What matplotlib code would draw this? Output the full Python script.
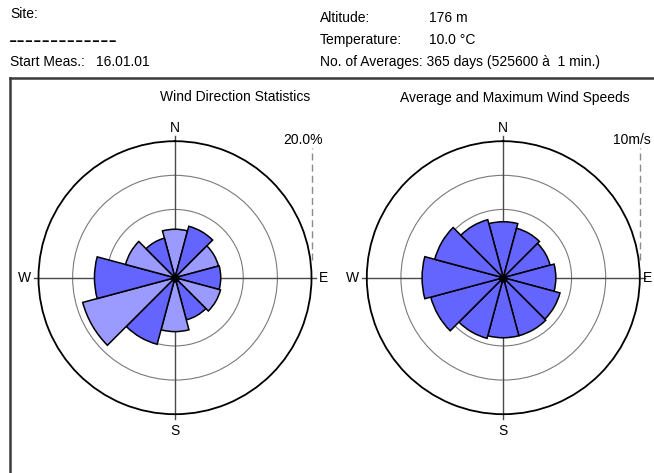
import numpy as np
import matplotlib
matplotlib.use("Agg")
import matplotlib.pyplot as plt
from matplotlib.lines import Line2D

plt.rcParams['font.family'] = ['Liberation Sans', 'DejaVu Sans']

W, H = 654, 473

# sector centres (deg, clockwise from north)
directions = [0, 30, 60, 90, 120, 150, 180, 210, 240, 270, 300, 330]
# share of time per sector [%]
frequency = [7.1, 7.8, 6.6, 6.7, 6.9, 6.4, 7.9, 10.1, 14.0, 11.8, 7.5, 6.0]
# average wind speed per sector [m/s]
avg_speed = [4.1, 3.75, 3.55, 3.85, 4.3, 4.4, 4.4, 4.6, 5.5, 5.95, 5.2, 4.4]

freq_max = 20.0
speed_max = 10.0

header = [("Site:", 10, 14), ("Start Meas.:", 10, 62), ("16.01.01", 96, 62),
          ("Altitude:", 320, 18), ("176 m", 429, 18),
          ("Temperature:", 320, 40), ("10.0 °C", 429, 40),
          ("No. of Averages: 365 days (525600 à  1 min.)", 320, 62)]

DARK = '#6464ff'
LIGHT = '#9b9bff'
FS = 10


def px(x, y):
    return x / W, 1 - y / H


def rose(cx, cy, radius, values, rmax, colors, scale_label, e_pad=1.085):
    l, b = px(cx - radius, cy + radius)
    ax = fig.add_axes([l, b, 2 * radius / W, 2 * radius / H], projection='polar')
    ax.set_theta_zero_location('N')
    ax.set_theta_direction(-1)
    ax.set_ylim(0, rmax)
    ax.set_xticks([])
    ax.set_yticks([0.5 * rmax, 0.75 * rmax])
    ax.set_yticklabels([])
    ax.yaxis.grid(True, color='#7a7a7a', lw=0.8)
    ax.spines['polar'].set_linewidth(1.3)
    ax.spines['polar'].set_color('black')

    # cross hairs, a bit longer than the outer circle
    for t in (0, 90, 180, 270):
        ax.plot([np.deg2rad(t)] * 2, [0, rmax * 1.035], color='#4a4a4a', lw=1.0,
                clip_on=False, zorder=2)
    pads = {'N': (0, 1.10), 'E': (90, e_pad), 'S': (180, 1.125), 'W': (270, 1.105)}
    for lab, (t, f) in pads.items():
        ax.text(np.deg2rad(t), rmax * f, lab, ha='center', va='center', fontsize=FS)

    ax.bar(np.deg2rad(directions), values, width=np.deg2rad(30), color=colors,
           edgecolor='black', linewidth=1.1, zorder=3)
    ax.plot(0, 0, 'o', color='black', ms=5, zorder=4)

    # scale marker on the right
    ax.plot([1.0, 1.0], [0.565, 0.975], transform=ax.transAxes, color='#8a8a8a',
            lw=1.0, ls=(0, (5, 3)), clip_on=False)
    ax.text(1.04, 1.004, scale_label, transform=ax.transAxes, ha='right',
            va='center', fontsize=FS)
    return ax


fig = plt.figure(figsize=(W / 100, H / 100), dpi=100)

for txt, x, y in header:
    fig.text(*px(x, y), txt, ha='left', va='center', fontsize=FS)
fig.text(*px(9, 47.5), "-------------", ha='left', va='baseline', fontsize=18)

# frame
fig.add_artist(Line2D([px(10, 0)[0], 1.0], [px(0, 78)[1]] * 2, transform=fig.transFigure,
                      color='#3a3a3a', lw=1.8))
fig.add_artist(Line2D([px(10, 0)[0]] * 2, [px(0, 78)[1], 0.0], transform=fig.transFigure,
                      color='#3a3a3a', lw=1.8))

fig.text(*px(235.5, 97), "Wind Direction Statistics", ha='center', va='center', fontsize=FS)
fig.text(*px(515, 98), "Average and Maximum Wind Speeds", ha='center', va='center', fontsize=FS)

left_colors = [LIGHT if i % 2 == 0 else DARK for i in range(len(directions))]
rose(175, 277.7, 136.5, frequency, freq_max, left_colors, f"{freq_max:.1f}%")
rose(503.3, 277.7, 136.5, avg_speed, speed_max, [DARK] * len(directions),
     f"{speed_max:.0f}m/s", e_pad=1.06)

fig.savefig("out.png", dpi=100)
